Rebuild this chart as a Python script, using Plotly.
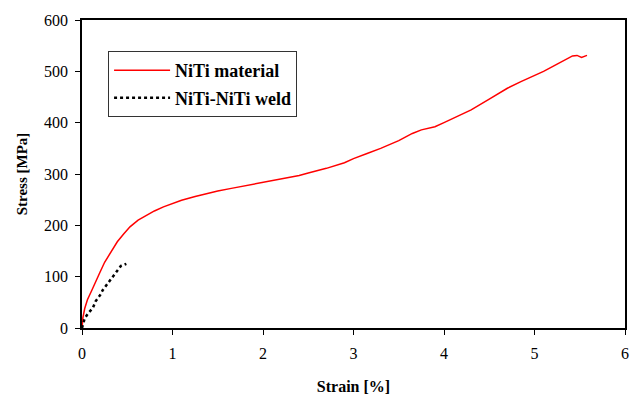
import plotly.graph_objects as go

# NiTi material curve (strain %, stress MPa)
niti_strain = [0.0, 0.01, 0.03, 0.06, 0.11, 0.16, 0.2, 0.25, 0.31, 0.39, 0.46, 0.53, 0.62, 0.72,
               0.8, 0.9, 1.0, 1.1, 1.25, 1.4, 1.5, 1.65, 1.8, 2.0, 2.2, 2.4, 2.5, 2.7, 2.9, 3.0,
               3.15, 3.3, 3.5, 3.65, 3.75, 3.9, 4.0, 4.15, 4.3, 4.5, 4.7, 4.85, 5.0, 5.1, 5.25,
               5.36, 5.42, 5.47, 5.52, 5.58]
niti_stress = [0, 20, 38, 55, 74, 92, 109, 128, 146, 168, 183, 197, 210, 220,
               228, 236, 243, 249, 256, 263, 267, 272, 277, 284, 290, 297, 302, 311, 322, 330,
               340, 350, 365, 379, 386, 392, 400, 412, 425, 446, 467, 480, 492, 500, 514,
               524, 530, 531, 527, 531]

# NiTi-NiTi weld curve
weld_strain = [0.0, 0.01, 0.03, 0.07, 0.12, 0.15, 0.2, 0.23, 0.29, 0.33, 0.39, 0.43, 0.49]
weld_stress = [0, 6, 19, 29, 39, 52, 64, 74, 88, 97, 111, 121, 125]

x_ticks = [0, 1, 2, 3, 4, 5, 6]
y_ticks = [0, 100, 200, 300, 400, 500, 600]

fig = go.Figure()
fig.add_trace(go.Scatter(x=niti_strain, y=niti_stress, mode="lines", name="NiTi material",
                         legendgroup="a",
                         line=dict(color="#ff0000", width=1.5)))
fig.add_trace(go.Scatter(x=weld_strain, y=weld_stress, mode="lines", name="NiTi-NiTi weld",
                         legendgroup="b",
                         line=dict(color="#000000", width=2.5, dash="dot")))

font_family = "Liberation Serif"
# page body has an 8px margin, so the figure is sized to fill the rest of the window
fig.update_layout(
    width=630, height=388,
    margin=dict(l=74, r=13, t=12, b=68, autoexpand=False),
    paper_bgcolor="white", plot_bgcolor="white",
    font=dict(family=font_family, size=16, color="black"),
    showlegend=True,
    legend=dict(x=0.048, y=0.899, xanchor="left", yanchor="top",
                bordercolor="#333333", borderwidth=1, bgcolor="white",
                font=dict(family=font_family, size=18, color="black", weight="bold"),
                tracegroupgap=1, itemwidth=56),
    xaxis=dict(range=[0, 6], tickvals=x_ticks, ticks="outside", ticklen=5, tickcolor="black",
               showline=True, linecolor="black", linewidth=1.5, mirror=True, showgrid=False,
               zeroline=False, automargin=False, ticklabelstandoff=5,
               tickfont=dict(family=font_family, size=16),
               title=dict(text="<b>Strain [%]</b>", font=dict(family=font_family, size=16),
                          standoff=20)),
    yaxis=dict(range=[0, 600], tickvals=y_ticks, ticks="outside", ticklen=5, tickcolor="black",
               showline=True, linecolor="black", linewidth=1.5, mirror=True, showgrid=False,
               zeroline=False, automargin=False, ticklabelstandoff=4,
               tickfont=dict(family=font_family, size=16),
               title=dict(text="<b>Stress [MPa]</b>", font=dict(family=font_family, size=15),
                          standoff=13)),
)

fig.write_html("out.html")
